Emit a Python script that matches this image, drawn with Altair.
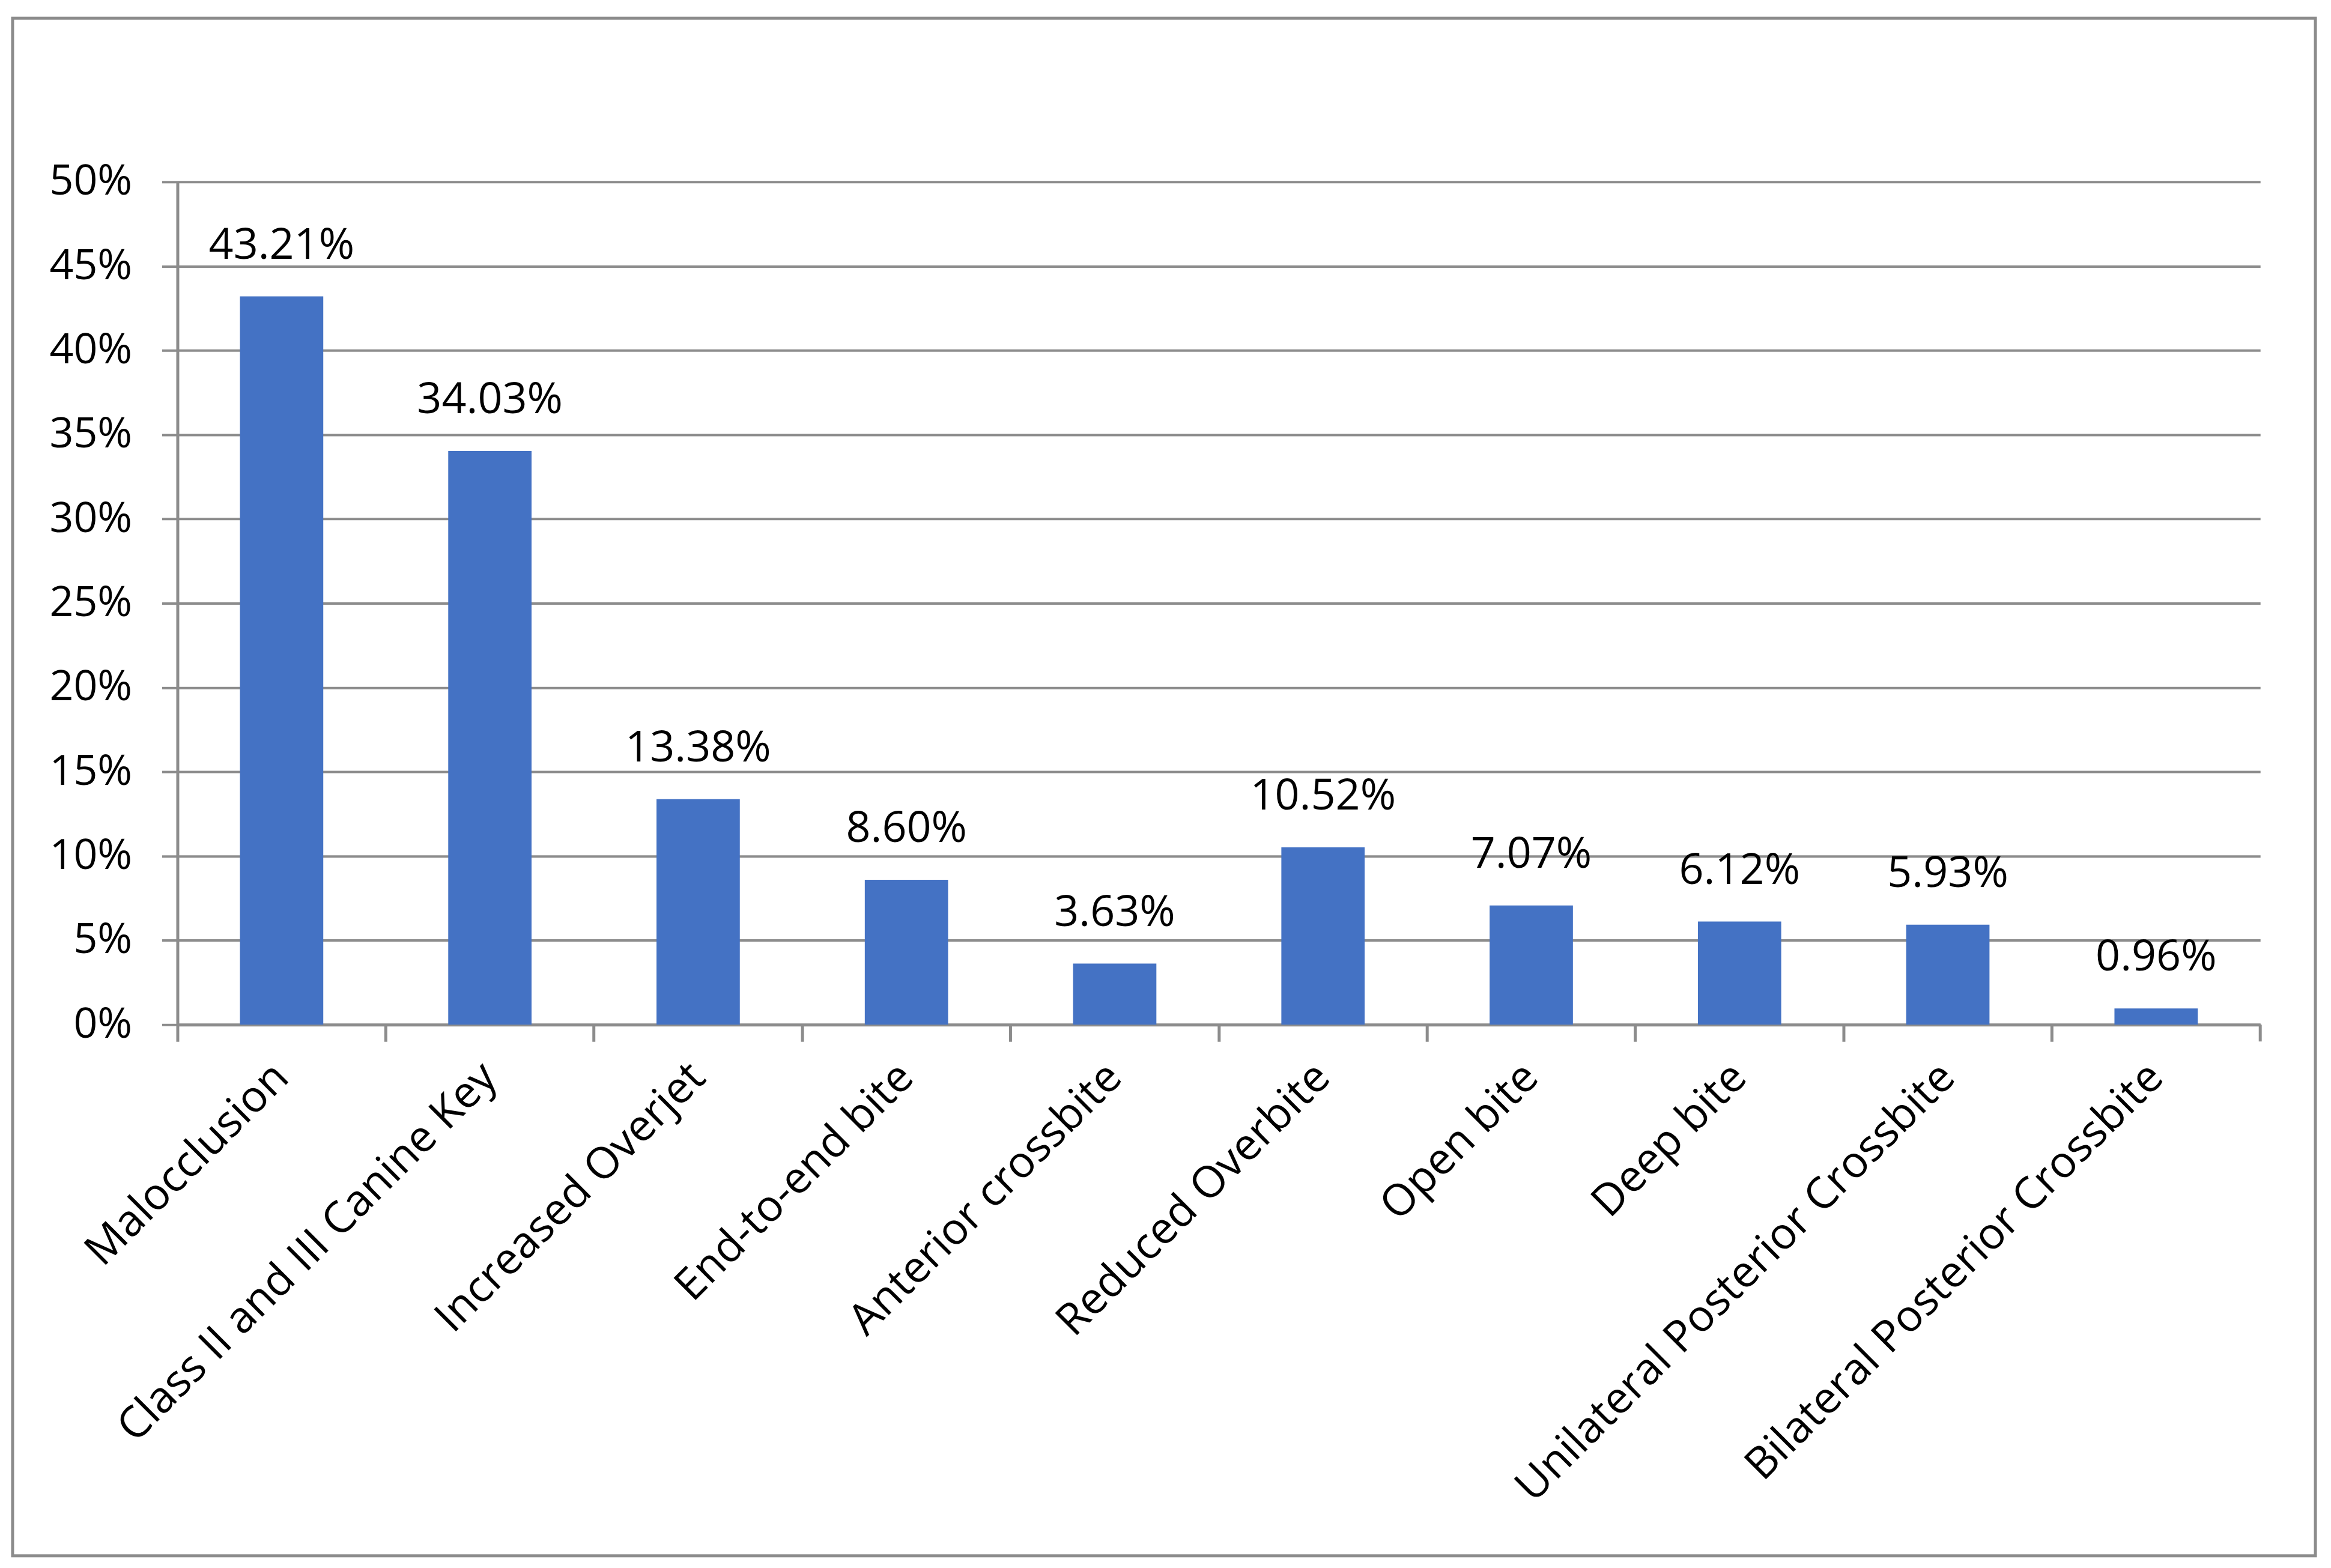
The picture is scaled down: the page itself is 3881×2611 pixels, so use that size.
import altair as alt
import pandas as pd

categories = [
    "Malocclusion",
    "Class II and III Canine Key",
    "Increased Overjet",
    "End-to-end bite",
    "Anterior crossbite",
    "Reduced Overbite",
    "Open bite",
    "Deep bite",
    "Unilateral Posterior Crossbite",
    "Bilateral Posterior Crossbite",
]
values = [0.4321, 0.3403, 0.1338, 0.0860, 0.0363, 0.1052, 0.0707, 0.0612, 0.0593, 0.0096]
y_ticks = [0, 0.05, 0.10, 0.15, 0.20, 0.25, 0.30, 0.35, 0.40, 0.45, 0.50]

df = pd.DataFrame({"cat": categories, "val": values})

W, H = 3474, 1406
GRAY = "#8c8c8c"
FONT = "Open Sans"

x_enc = alt.X(
    "cat:N",
    sort=None,
    title=None,
    scale=alt.Scale(paddingInner=0, paddingOuter=0),
    axis=alt.Axis(
        bandPosition=0,
        labelAngle=-45,
        labelAlign="right",
        labelBaseline="middle",
        labelPadding=48,
        labelFontSize=73,
        labelFont=FONT,
        labelColor="#000000",
        labelLimit=3000,
        labelOverlap=False,
        labelBound=False,
        labelFlush=False,
        tickSize=28,
        tickColor=GRAY,
        tickWidth=5,
        domainColor=GRAY,
        domainWidth=5,
        grid=False,
    ),
)
y_enc = alt.Y(
    "val:Q",
    title=None,
    scale=alt.Scale(domain=[0, 0.5], nice=False),
    axis=alt.Axis(
        values=y_ticks,
        format=".0%",
        labelFontSize=70,
        labelFont=FONT,
        labelColor="#000000",
        labelPadding=50,
        tickSize=26,
        tickColor=GRAY,
        tickWidth=4,
        domainColor=GRAY,
        domainWidth=5,
        grid=True,
        gridColor=GRAY,
        gridWidth=4,
    ),
)

base = alt.Chart(df)

bars = base.mark_bar(color="#4472C4", width=alt.RelativeBandSize(0.4)).encode(x=x_enc, y=y_enc)

labels = base.mark_text(
    font=FONT, fontSize=72, color="#000000", baseline="alphabetic", dy=-63
).encode(
    x=alt.X("cat:N", sort=None),
    y=alt.Y("val:Q"),
    text=alt.Text("val:Q", format=".2%"),
)

end_tick = alt.Chart(alt.Data(values=[{"a": 1}])).mark_rule(
    color=GRAY, strokeWidth=5
).encode(x=alt.value(W), y=alt.value(H), y2=alt.value(H + 28))

border = alt.Chart(alt.Data(values=[{"a": 1}])).mark_rect(
    fill="transparent", stroke=GRAY, strokeWidth=5
).encode(
    x=alt.value(-275), x2=alt.value(3566), y=alt.value(-273), y2=alt.value(2292)
)

chart = alt.layer(bars, labels, end_tick, border).properties(
    width=W,
    height=H,
    padding={"left": 288, "top": 293, "right": 110, "bottom": 900},
    autosize=alt.AutoSizeParams(type="none"),
).configure_view(stroke=None)

chart.save("out.html", embed_options={"renderer": "svg", "actions": False})
